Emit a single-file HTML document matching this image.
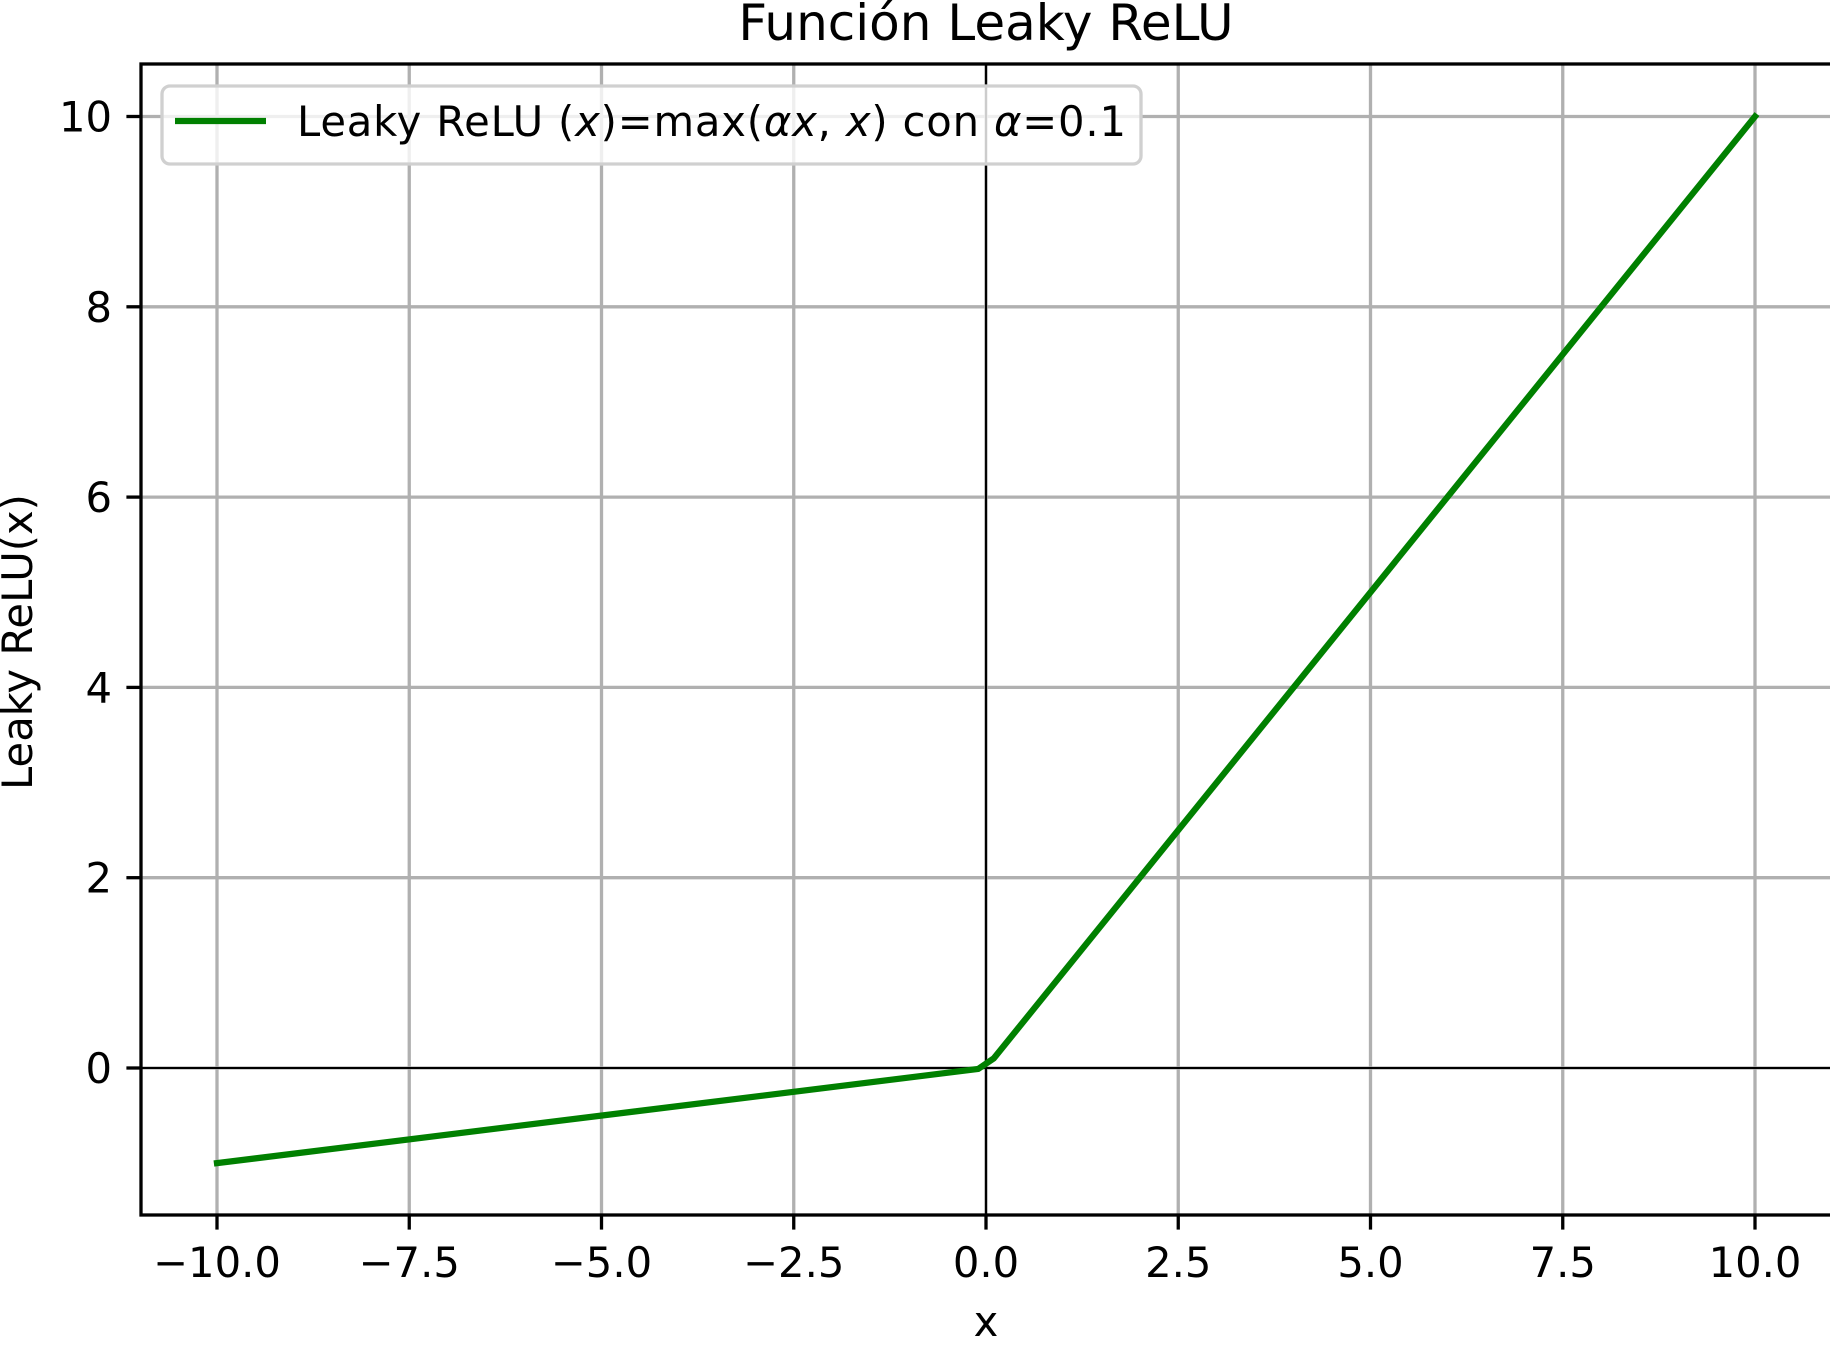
<!DOCTYPE html>
<html><head><meta charset="utf-8"><style>
html,body{margin:0;padding:0;background:#fff;}
svg{display:block;font-family:"DejaVu Sans","Liberation Sans",sans-serif;}
</style></head><body>
<svg id="chart" width="1830" height="1346" viewBox="0 0 1830 1346" xmlns="http://www.w3.org/2000/svg">
<rect width="1830" height="1346" fill="#fff"/>
<g id="grid"></g>
<g id="zero-lines"></g>
<g id="series"></g>
<rect x="141" y="64" width="1700" height="1151" fill="none" stroke="#000" stroke-width="3.3"/>
<g id="ticks"></g>
<text x="986" y="40" font-size="50" text-anchor="middle">Función Leaky ReLU</text>
<text x="986" y="1336" font-size="41.7" text-anchor="middle">x</text>
<text transform="translate(32,642) rotate(-90)" font-size="41.7" text-anchor="middle">Leaky ReLU(x)</text>
<g>
<rect x="162" y="86" width="979" height="78" rx="8" fill="#fff" fill-opacity="0.8" stroke="#d0d0d0" stroke-width="3.3"/>
<line x1="175" y1="121" x2="266" y2="121" stroke="#008000" stroke-width="6.25"/>
<text x="297" y="136" font-size="41.7" textLength="829" lengthAdjust="spacing">Leaky ReLU (<tspan font-style="italic">x</tspan>)=max(<tspan font-style="italic">αx</tspan>, <tspan font-style="italic">x</tspan>) con <tspan font-style="italic">α</tspan>=0.1</text>
</g>
</svg>
<script>
const xTicks = [-10, -7.5, -5, -2.5, 0, 2.5, 5, 7.5, 10];
const xTickLabels = ["\u221210.0", "\u22127.5", "\u22125.0", "\u22122.5", "0.0", "2.5", "5.0", "7.5", "10.0"];
const yTicks = [0, 2, 4, 6, 8, 10];
const yTickLabels = ["0", "2", "4", "6", "8", "10"];
const xValues = [-10, -0.101, 0.101, 10];
const yValues = [-1, -0.0101, 0.101, 10];

const NS = "http://www.w3.org/2000/svg";
const L = 141, R = 1841, T = 64, B = 1215;
function sx(v){ return 986 + v * 76.9; }
function sy(v){ return 1068 - v * 95.15; }
function mk(tag, attrs, parent){
  const e = document.createElementNS(NS, tag);
  for (const k in attrs) e.setAttribute(k, attrs[k]);
  parent.appendChild(e);
  return e;
}
const grid = document.getElementById('grid');
const ticks = document.getElementById('ticks');
xTicks.forEach((v, i) => {
  const x = sx(v);
  const g = mk('line', {x1:x, y1:T, x2:x, y2:B, stroke:'#b0b0b0', 'stroke-width':3.3}, grid);
  
  
  const t = mk('line', {x1:x, y1:B, x2:x, y2:B+14.6, stroke:'#000', 'stroke-width':3.3}, ticks);
  
  
  const lb = mk('text', {x:x, y:1277, 'font-size':41.7, 'text-anchor':'middle'}, ticks);
  lb.textContent = xTickLabels[i];
  
  
});
yTicks.forEach((v, i) => {
  const y = sy(v);
  const g = mk('line', {x1:L, y1:y, x2:R, y2:y, stroke:'#b0b0b0', 'stroke-width':3.3}, grid);
  
  
  const t = mk('line', {x1:L-14.6, y1:y, x2:L, y2:y, stroke:'#000', 'stroke-width':3.3}, ticks);
  
  
  const lb = mk('text', {x:112, y:y+15, 'font-size':41.7, 'text-anchor':'end'}, ticks);
  lb.textContent = yTickLabels[i];
  
  
});
const zl = document.getElementById('zero-lines');
const h = mk('line', {x1:L, y1:sy(0), x2:R, y2:sy(0), stroke:'#000', 'stroke-width':2.1}, zl);


const vl = mk('line', {x1:sx(0), y1:T, x2:sx(0), y2:B, stroke:'#000', 'stroke-width':2.1}, zl);


const pts = xValues.map((v, i) => sx(v).toFixed(2) + ',' + sy(yValues[i]).toFixed(2)).join(' ');
const line = mk('polyline', {points:pts, fill:'none', stroke:'#008000', 'stroke-width':6.25, 'stroke-linejoin':'round', 'stroke-linecap':'square'}, document.getElementById('series'));


</script>
</body></html>
